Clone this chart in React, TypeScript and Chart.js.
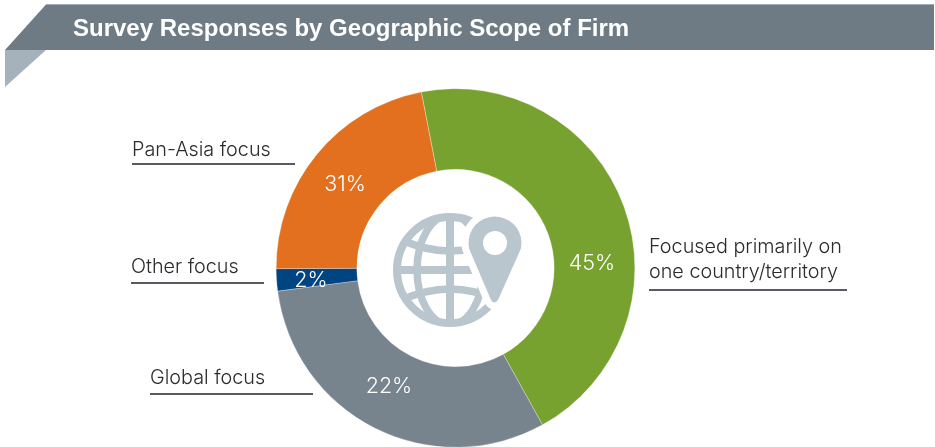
import React, { useEffect, useRef } from "react";
import { Chart, registerables } from "chart.js";

Chart.register(...registerables);

const titleText = "Survey Responses by Geographic Scope of Firm";
const categories = ["Focused primarily on one country/territory", "Global focus", "Other focus", "Pan-Asia focus"];
const sliceValues = [45, 31, 2, 22];
const printedLabels = ["45%", "22%", "2%", "31%"];
const sliceColors = ["#78a22f", "#77838d", "#004481", "#e3701e"];

const labelFont = '300 19.8px "Inter", "Liberation Sans", sans-serif';
const percentFont = '300 21.5px "Inter", "Liberation Sans", sans-serif';
const printedSpots = [
  [592, 270],
  [389, 393],
  [311, 287],
  [345, 191],
];
const callouts = [
  { lines: ["Focused primarily on", "one country/territory"], x: 649, y: [253, 278], rule: [649, 847, 290] },
  { lines: ["Global focus"], x: 150, y: [384], rule: [150, 313, 394] },
  { lines: ["Other focus"], x: 131, y: [273], rule: [131, 264, 283] },
  { lines: ["Pan-Asia focus"], x: 132, y: [156], rule: [132, 295, 164] },
];

function drawIcon(c: CanvasRenderingContext2D) {
  const col = "#bac6ce";
  const gx = 450, gy = 270, gr = 53;
  c.save();
  c.strokeStyle = col;
  c.lineWidth = 8;
  c.beginPath();
  c.arc(gx, gy, gr, 0, Math.PI * 2);
  c.stroke();
  c.save();
  c.beginPath();
  c.arc(gx, gy, gr, 0, Math.PI * 2);
  c.clip();
  c.lineWidth = 8;
  c.beginPath();
  c.moveTo(gx, gy - gr);
  c.lineTo(gx, gy + gr);
  c.moveTo(gx - gr, gy);
  c.lineTo(gx + gr, gy);
  c.stroke();
  c.lineWidth = 7.5;
  c.beginPath();
  c.ellipse(gx, gy, 33, gr + 2, 0, 0, Math.PI * 2);
  c.stroke();
  c.beginPath();
  c.moveTo(gx - 48, gy - 30);
  c.quadraticCurveTo(gx, gy - 8, gx + 48, gy - 30);
  c.moveTo(gx - 48, gy + 30);
  c.quadraticCurveTo(gx, gy + 8, gx + 48, gy + 30);
  c.stroke();
  c.restore();
  const pin = new Path2D();
  const px = 495, py = 243, pr = 26.5;
  pin.arc(px, py, pr, Math.PI * 0.93, Math.PI * 0.07);
  pin.lineTo(px + 3, 300);
  pin.quadraticCurveTo(px - 1, 305, px - 4, 300);
  pin.closePath();
  c.strokeStyle = "#ffffff";
  c.lineWidth = 14;
  c.lineJoin = "round";
  c.stroke(pin);
  c.fillStyle = col;
  c.fill(pin);
  c.fillStyle = "#ffffff";
  c.beginPath();
  c.arc(px, py, 12, 0, Math.PI * 2);
  c.fill();
  c.restore();
}

const overlay = {
  id: "overlay",
  afterDraw(chart: any) {
    const c: CanvasRenderingContext2D = chart.ctx;
    c.save();
    // banner
    c.fillStyle = "#d8dcdf";
    c.fillRect(46, 4, 888, 1);
    c.fillStyle = "#6e7b85";
    c.beginPath();
    c.moveTo(46, 4.5);
    c.lineTo(934, 4.5);
    c.lineTo(934, 50);
    c.lineTo(5, 50);
    c.closePath();
    c.fill();
    c.fillStyle = "#a6b2bb";
    c.beginPath();
    c.moveTo(5, 50);
    c.lineTo(46, 50);
    c.lineTo(5, 87);
    c.closePath();
    c.fill();
    c.fillStyle = "#ffffff";
    c.font = 'bold 24px "Liberation Sans", sans-serif';
    c.textAlign = "left";
    c.textBaseline = "alphabetic";
    c.fillText(titleText, 73, 36);

    // printed slice labels
    c.font = percentFont;
    c.textAlign = "center";
    printedLabels.forEach((t, i) => c.fillText(t, printedSpots[i][0], printedSpots[i][1]));

    // callouts
    c.font = labelFont;
    c.textAlign = "left";
    callouts.forEach((k) => {
      c.fillStyle = "#2b2b2b";
      k.lines.forEach((l, i) => c.fillText(l, k.x, k.y[i]));
      c.strokeStyle = "#5a5a62";
      c.lineWidth = 2;
      c.beginPath();
      c.moveTo(k.rule[0], k.rule[2]);
      c.lineTo(k.rule[1], k.rule[2]);
      c.stroke();
    });
    drawIcon(c);
    c.restore();
  },
};

export default function App() {
  const ref = useRef<HTMLCanvasElement>(null);
  useEffect(() => {
    document.body.style.margin = "0";
    document.body.style.background = "#ffffff";
    const chart = new Chart(ref.current!, {
      type: "doughnut",
      data: {
        labels: categories,
        datasets: [{ data: sliceValues, backgroundColor: sliceColors, borderColor: "#ffffff", borderWidth: 0.3 }],
      },
      options: {
        animation: false,
        responsive: false,
        rotation: -11,
        cutout: "55%",
        layout: { padding: { left: 276, right: 300, top: 88.5, bottom: 22.5 } },
        plugins: { legend: { display: false }, tooltip: { enabled: false } },
      },
      plugins: [overlay],
    } as any);
    return () => chart.destroy();
  }, []);
  return (
    <div style={{ position: "fixed", left: 0, top: 0, width: 935, height: 447, overflow: "hidden", background: "#fff" }}>
      <canvas ref={ref} width={935} height={470} style={{ display: "block", width: 935, height: 470 }} />
    </div>
  );
}
